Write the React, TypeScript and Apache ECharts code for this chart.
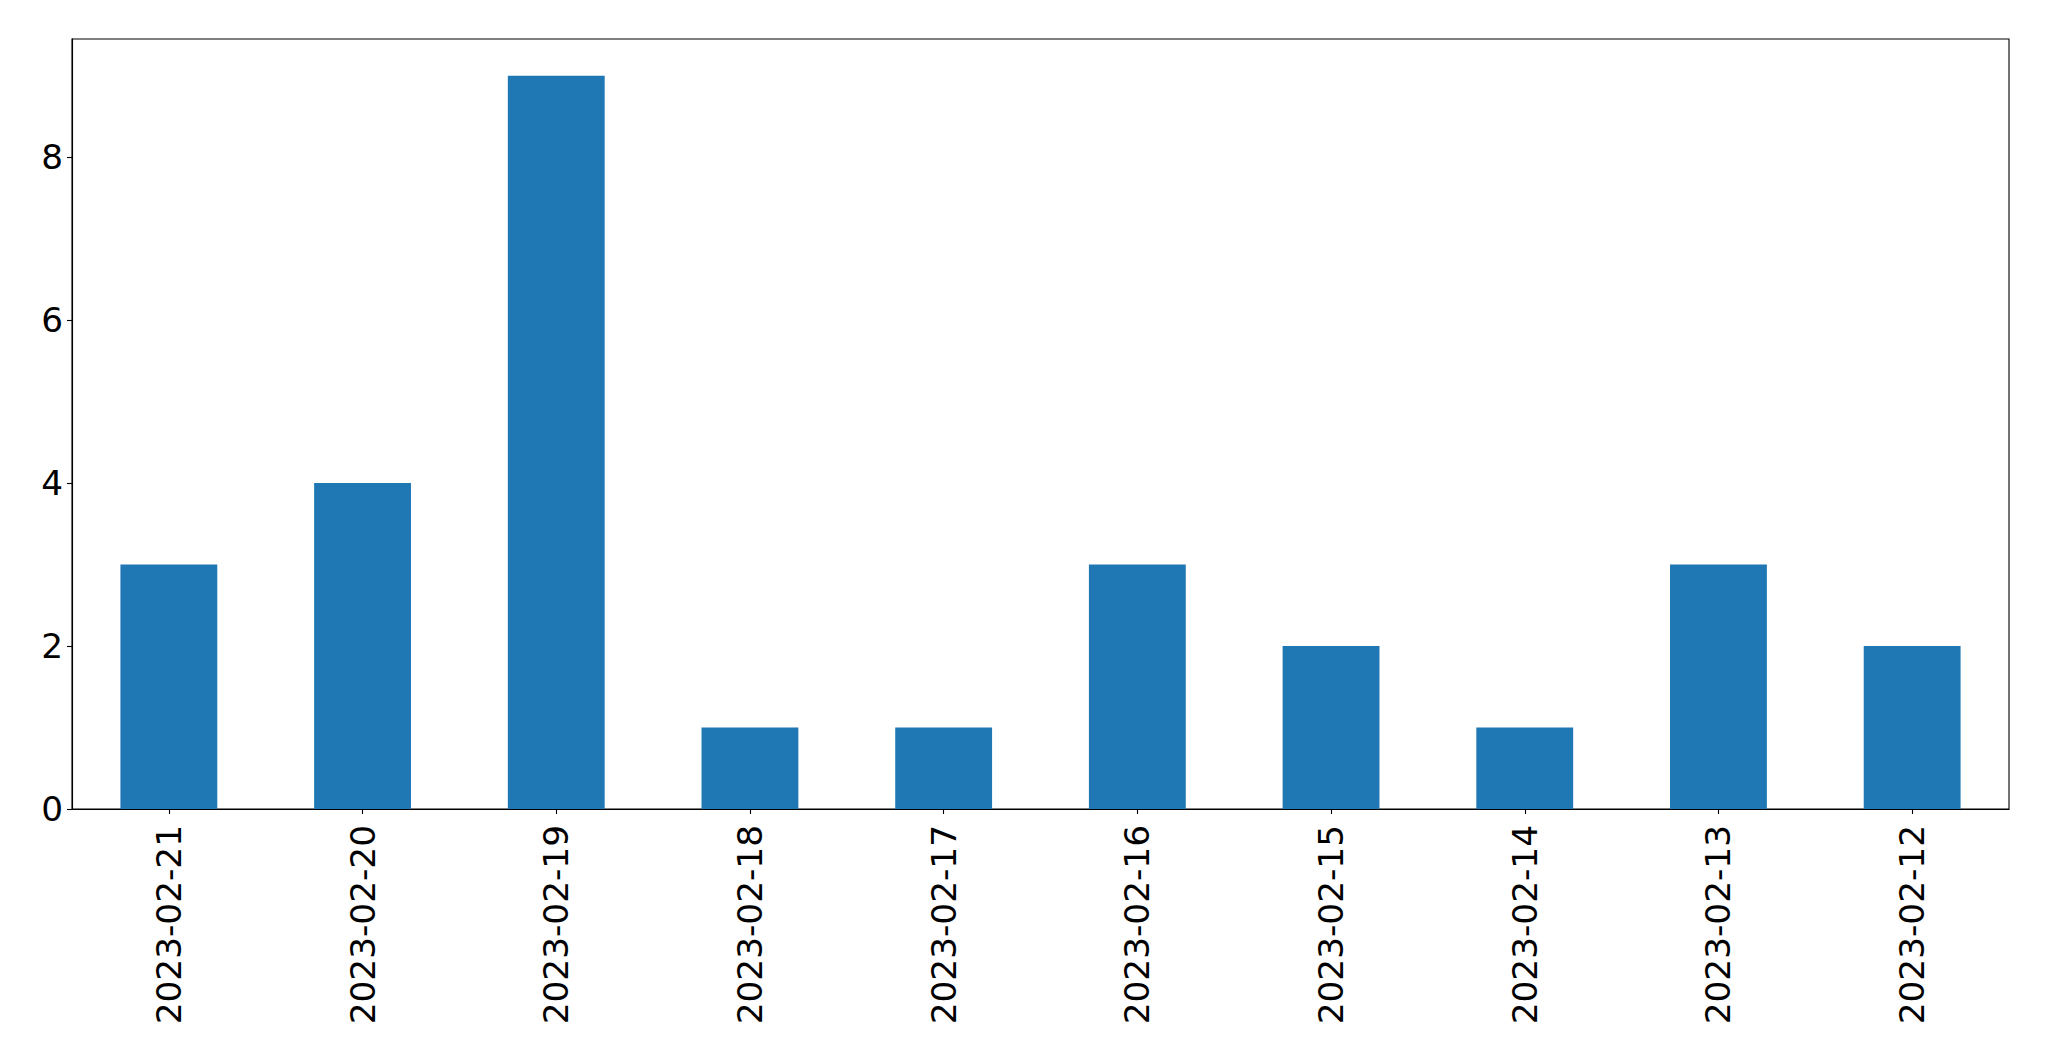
import React, { useEffect, useRef } from "react";
import * as echarts from "echarts";

const categories = [
  "2023-02-21",
  "2023-02-20",
  "2023-02-19",
  "2023-02-18",
  "2023-02-17",
  "2023-02-16",
  "2023-02-15",
  "2023-02-14",
  "2023-02-13",
  "2023-02-12",
];
const values = [3, 4, 9, 1, 1, 3, 2, 1, 3, 2];
const yMax = 9.45;

export default function App() {
  const ref = useRef<HTMLDivElement>(null);
  useEffect(() => {
    if (!ref.current) return;
    const chart = echarts.init(ref.current, null, { renderer: "svg" });
    const font = "DejaVu Sans";
    chart.setOption({
      animation: false,
      backgroundColor: "#ffffff",
      grid: {
        left: 72,
        top: 39,
        right: 40,
        bottom: 252,
        show: true,
        borderColor: "#000000",
        borderWidth: 1.1,
        backgroundColor: "transparent",
      },
      xAxis: {
        type: "category",
        data: categories,
        boundaryGap: true,
        axisLine: { show: true, lineStyle: { color: "#000", width: 1.1 } },
        axisTick: {
          show: true,
          alignWithLabel: true,
          length: 5,
          lineStyle: { color: "#000", width: 1.1 },
        },
        axisLabel: {
          rotate: 90,
          margin: 16,
          fontSize: 34.3,
          fontFamily: font,
          color: "#000",
          interval: 0,
        },
        splitLine: { show: false },
      },
      yAxis: {
        type: "value",
        min: 0,
        max: yMax,
        interval: 2,
        axisLine: { show: true, lineStyle: { color: "#000", width: 1.1 } },
        axisTick: {
          show: true,
          length: 5,
          lineStyle: { color: "#000", width: 1.1 },
        },
        axisLabel: {
          showMaxLabel: false,
          margin: 9,
          fontSize: 34.3,
          fontFamily: font,
          color: "#000",
        },
        splitLine: { show: false },
      },
      series: [
        {
          type: "bar",
          data: values,
          barWidth: "50%",
          itemStyle: { color: "#1f77b4" },
        },
      ],
    });
    return () => chart.dispose();
  }, []);
  return (
    <div
      ref={ref}
      style={{
        position: "fixed",
        left: 0,
        top: 0,
        width: 2049,
        height: 1061,
        background: "#fff",
      }}
    />
  );
}
